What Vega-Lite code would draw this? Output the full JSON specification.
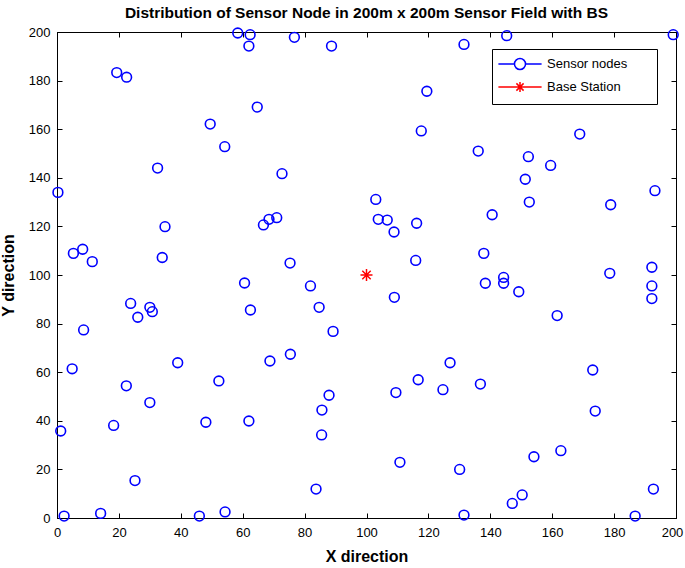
{
  "$schema": "https://vega.github.io/schema/vega-lite/v6.json",
  "width": 619,
  "height": 486,
  "autosize": {"type": "none"},
  "padding": {"left": 57, "top": 32, "right": 9, "bottom": 50},
  "background": "white",
  "title": {
    "text": "Distribution of Sensor Node in 200m x 200m Sensor Field with BS",
    "font": "Liberation Sans",
    "fontSize": 15.5,
    "fontWeight": "bold",
    "color": "black",
    "anchor": "middle",
    "offset": 3
  },
  "config": {
    "view": {"stroke": "black", "strokeWidth": 1},
    "axis": {
      "labelFont": "Liberation Sans",
      "labelFontSize": 13,
      "labelColor": "black",
      "titleFont": "Liberation Sans",
      "titleFontSize": 16,
      "titleFontWeight": "bold",
      "titleColor": "black",
      "domainColor": "black",
      "tickColor": "black",
      "grid": false
    },
    "legend": {
      "labelFont": "Liberation Sans",
      "labelFontSize": 13,
      "labelColor": "black"
    }
  },
  "data": {
    "values": [
      {"x": 0.3, "y": 134, "type": "Sensor nodes"},
      {"x": 5.3, "y": 108.9, "type": "Sensor nodes"},
      {"x": 8.3, "y": 110.6, "type": "Sensor nodes"},
      {"x": 11.4, "y": 105.5, "type": "Sensor nodes"},
      {"x": 19.3, "y": 183.3, "type": "Sensor nodes"},
      {"x": 22.5, "y": 181.4, "type": "Sensor nodes"},
      {"x": 32.5, "y": 144, "type": "Sensor nodes"},
      {"x": 34.9, "y": 119.9, "type": "Sensor nodes"},
      {"x": 34, "y": 107.2, "type": "Sensor nodes"},
      {"x": 49.5, "y": 162.1, "type": "Sensor nodes"},
      {"x": 54.2, "y": 152.8, "type": "Sensor nodes"},
      {"x": 58.4, "y": 199.6, "type": "Sensor nodes"},
      {"x": 62.4, "y": 198.9, "type": "Sensor nodes"},
      {"x": 62, "y": 194.2, "type": "Sensor nodes"},
      {"x": 64.7, "y": 169.1, "type": "Sensor nodes"},
      {"x": 66.7, "y": 120.6, "type": "Sensor nodes"},
      {"x": 68.5, "y": 122.9, "type": "Sensor nodes"},
      {"x": 71, "y": 123.6, "type": "Sensor nodes"},
      {"x": 72.7, "y": 141.7, "type": "Sensor nodes"},
      {"x": 75.3, "y": 104.9, "type": "Sensor nodes"},
      {"x": 76.7, "y": 197.8, "type": "Sensor nodes"},
      {"x": 88.7, "y": 194.2, "type": "Sensor nodes"},
      {"x": 1.2, "y": 35.8, "type": "Sensor nodes"},
      {"x": 2.3, "y": 0.8, "type": "Sensor nodes"},
      {"x": 14.1, "y": 1.9, "type": "Sensor nodes"},
      {"x": 4.9, "y": 61.4, "type": "Sensor nodes"},
      {"x": 8.6, "y": 77.4, "type": "Sensor nodes"},
      {"x": 23.8, "y": 88.3, "type": "Sensor nodes"},
      {"x": 30, "y": 86.7, "type": "Sensor nodes"},
      {"x": 30.8, "y": 84.9, "type": "Sensor nodes"},
      {"x": 26.1, "y": 82.6, "type": "Sensor nodes"},
      {"x": 22.4, "y": 54.4, "type": "Sensor nodes"},
      {"x": 30, "y": 47.5, "type": "Sensor nodes"},
      {"x": 18.3, "y": 38.1, "type": "Sensor nodes"},
      {"x": 39, "y": 63.9, "type": "Sensor nodes"},
      {"x": 25.2, "y": 15.4, "type": "Sensor nodes"},
      {"x": 46, "y": 0.8, "type": "Sensor nodes"},
      {"x": 54.3, "y": 2.5, "type": "Sensor nodes"},
      {"x": 48.1, "y": 39.4, "type": "Sensor nodes"},
      {"x": 52.3, "y": 56.4, "type": "Sensor nodes"},
      {"x": 60.6, "y": 96.7, "type": "Sensor nodes"},
      {"x": 62.5, "y": 85.6, "type": "Sensor nodes"},
      {"x": 62, "y": 39.9, "type": "Sensor nodes"},
      {"x": 68.8, "y": 64.6, "type": "Sensor nodes"},
      {"x": 75.4, "y": 67.4, "type": "Sensor nodes"},
      {"x": 81.9, "y": 95.5, "type": "Sensor nodes"},
      {"x": 84.7, "y": 86.7, "type": "Sensor nodes"},
      {"x": 89.2, "y": 76.8, "type": "Sensor nodes"},
      {"x": 87.9, "y": 50.5, "type": "Sensor nodes"},
      {"x": 85.6, "y": 44.4, "type": "Sensor nodes"},
      {"x": 85.5, "y": 34.2, "type": "Sensor nodes"},
      {"x": 83.7, "y": 11.9, "type": "Sensor nodes"},
      {"x": 131.5, "y": 194.9, "type": "Sensor nodes"},
      {"x": 145.3, "y": 198.5, "type": "Sensor nodes"},
      {"x": 199.1, "y": 198.9, "type": "Sensor nodes"},
      {"x": 119.5, "y": 175.6, "type": "Sensor nodes"},
      {"x": 117.7, "y": 159.3, "type": "Sensor nodes"},
      {"x": 168.9, "y": 158, "type": "Sensor nodes"},
      {"x": 136.1, "y": 151, "type": "Sensor nodes"},
      {"x": 152.3, "y": 148.7, "type": "Sensor nodes"},
      {"x": 159.5, "y": 145.1, "type": "Sensor nodes"},
      {"x": 151.3, "y": 139.4, "type": "Sensor nodes"},
      {"x": 193.2, "y": 134.7, "type": "Sensor nodes"},
      {"x": 152.6, "y": 130, "type": "Sensor nodes"},
      {"x": 103, "y": 131.1, "type": "Sensor nodes"},
      {"x": 178.9, "y": 128.9, "type": "Sensor nodes"},
      {"x": 103.8, "y": 122.9, "type": "Sensor nodes"},
      {"x": 106.7, "y": 122.6, "type": "Sensor nodes"},
      {"x": 108.9, "y": 117.7, "type": "Sensor nodes"},
      {"x": 116.2, "y": 121.3, "type": "Sensor nodes"},
      {"x": 140.6, "y": 124.8, "type": "Sensor nodes"},
      {"x": 137.9, "y": 108.9, "type": "Sensor nodes"},
      {"x": 115.9, "y": 106, "type": "Sensor nodes"},
      {"x": 178.6, "y": 100.7, "type": "Sensor nodes"},
      {"x": 192.2, "y": 103.2, "type": "Sensor nodes"},
      {"x": 144.3, "y": 99, "type": "Sensor nodes"},
      {"x": 138.4, "y": 96.6, "type": "Sensor nodes"},
      {"x": 144.3, "y": 96.6, "type": "Sensor nodes"},
      {"x": 149.2, "y": 93.1, "type": "Sensor nodes"},
      {"x": 192.2, "y": 95.5, "type": "Sensor nodes"},
      {"x": 192.2, "y": 90.3, "type": "Sensor nodes"},
      {"x": 109, "y": 90.8, "type": "Sensor nodes"},
      {"x": 161.6, "y": 83.3, "type": "Sensor nodes"},
      {"x": 127, "y": 63.9, "type": "Sensor nodes"},
      {"x": 116.7, "y": 56.9, "type": "Sensor nodes"},
      {"x": 124.7, "y": 52.8, "type": "Sensor nodes"},
      {"x": 109.5, "y": 51.6, "type": "Sensor nodes"},
      {"x": 136.8, "y": 55.1, "type": "Sensor nodes"},
      {"x": 173.1, "y": 60.9, "type": "Sensor nodes"},
      {"x": 173.9, "y": 44, "type": "Sensor nodes"},
      {"x": 110.8, "y": 22.9, "type": "Sensor nodes"},
      {"x": 130.1, "y": 20, "type": "Sensor nodes"},
      {"x": 154.1, "y": 25.2, "type": "Sensor nodes"},
      {"x": 162.8, "y": 27.7, "type": "Sensor nodes"},
      {"x": 192.7, "y": 11.9, "type": "Sensor nodes"},
      {"x": 150.3, "y": 9.5, "type": "Sensor nodes"},
      {"x": 147.1, "y": 6, "type": "Sensor nodes"},
      {"x": 131.5, "y": 1.2, "type": "Sensor nodes"},
      {"x": 186.8, "y": 0.8, "type": "Sensor nodes"},
      {"x": 100, "y": 100, "type": "Base Station"}
    ]
  },
  "layer": [
    {
      "transform": [{"filter": "datum.type === 'Sensor nodes'"}],
      "mark": {"type": "point", "shape": "circle", "filled": false, "size": 95, "strokeWidth": 1.6, "opacity": 1},
      "encoding": {
        "x": {"field": "x", "type": "quantitative", "scale": {"domain": [0, 200], "nice": false},
          "axis": {"orient": "bottom", "title": "X direction", "values": [0,20,40,60,80,100,120,140,160,180,200], "tickSize": -5, "labelPadding": 13, "titlePadding": 9, "labelFlush": false,
            "labelOffset": {"condition": {"test": "datum.value === 200", "value": -4}, "value": 0}}},
        "y": {"field": "y", "type": "quantitative", "scale": {"domain": [0, 200], "nice": false},
          "axis": {"orient": "left", "title": "Y direction", "values": [0,20,40,60,80,100,120,140,160,180,200], "tickSize": -5, "labelPadding": 12, "titlePadding": 12, "labelFlush": false}},
        "color": {"field": "type", "type": "nominal", "scale": {"domain": ["Sensor nodes", "Base Station"], "range": ["#0000ff", "#ff0000"]}}
      }
    },
    {
      "transform": [{"filter": "datum.type === 'Base Station'"}],
      "mark": {"type": "point", "shape": "M-1,0H1M0,-1V1M-0.7,-0.7L0.7,0.7M-0.7,0.7L0.7,-0.7", "filled": false, "size": 144, "strokeWidth": 1.5, "opacity": 1},
      "encoding": {
        "x": {"field": "x", "type": "quantitative",
          "axis": {"orient": "top", "title": null, "labels": false, "values": [0,20,40,60,80,100,120,140,160,180,200], "tickSize": -5}},
        "y": {"field": "y", "type": "quantitative",
          "axis": {"orient": "right", "title": null, "labels": false, "values": [0,20,40,60,80,100,120,140,160,180,200], "tickSize": -5}},
        "color": {"field": "type", "type": "nominal"}
      }
    },
    {
      "mark": {"type": "point", "filled": false, "opacity": 0},
      "encoding": {
        "x": {"field": "x", "type": "quantitative", "axis": null},
        "y": {"field": "y", "type": "quantitative", "axis": null},
        "color": {"field": "type", "type": "nominal",
          "legend": {"title": null, "orient": "none", "legendX": 435, "legendY": 17, "strokeColor": "black", "fillColor": "white", "padding": 8, "symbolSize": 144, "symbolStrokeWidth": 1.5, "symbolOpacity": 1, "symbolFillColor": "transparent", "symbolOffset": 13, "rowPadding": 5, "labelOffset": 20}},
        "shape": {"field": "type", "type": "nominal",
          "scale": {"domain": ["Sensor nodes", "Base Station"], "range": ["M-3.6,0H-0.92M0.92,0H3.6M-0.92,0A0.92,0.92 0 1,1 0.92,0A0.92,0.92 0 1,1 -0.92,0M20.9,0", "M-3.6,0H3.6M0,-0.85V0.85M-0.6,-0.6L0.6,0.6M-0.6,0.6L0.6,-0.6M20.9,0"]},
          "legend": {"title": null, "orient": "none", "legendX": 435, "legendY": 17}}
      }
    }
  ],
  "resolve": {"axis": {"x": "independent", "y": "independent"}}
}
